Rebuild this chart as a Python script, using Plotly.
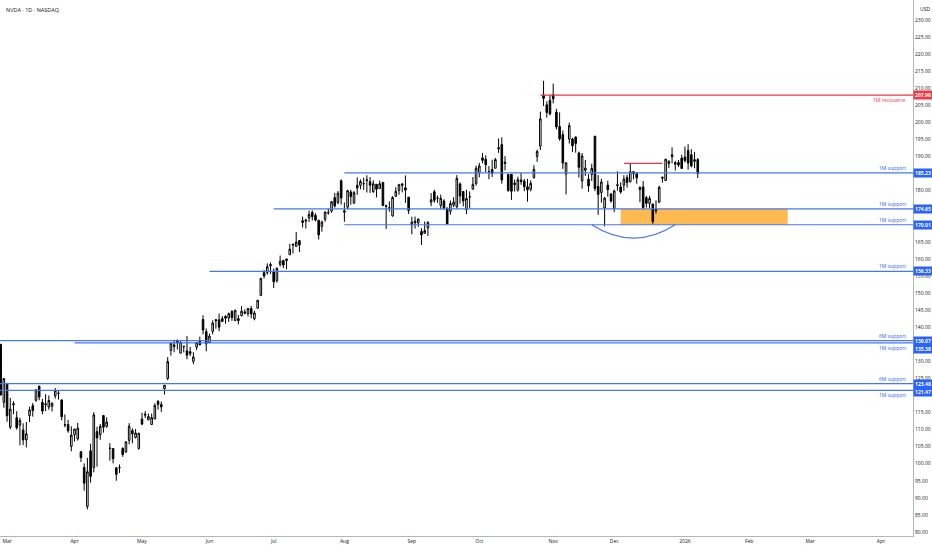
import pandas as pd
import plotly.graph_objects as go

# NVDA daily candles
dates = [
    '2025-02-27', '2025-02-28',
    '2025-03-03', '2025-03-04', '2025-03-05', '2025-03-06', '2025-03-07', '2025-03-10', '2025-03-11',
    '2025-03-12', '2025-03-13', '2025-03-14', '2025-03-17', '2025-03-18', '2025-03-19', '2025-03-20',
    '2025-03-21', '2025-03-24', '2025-03-25', '2025-03-26', '2025-03-27', '2025-03-28', '2025-03-31',
    '2025-04-01', '2025-04-02', '2025-04-03', '2025-04-04', '2025-04-07', '2025-04-08', '2025-04-09',
    '2025-04-10', '2025-04-11', '2025-04-14', '2025-04-15', '2025-04-16', '2025-04-17', '2025-04-21',
    '2025-04-22', '2025-04-23', '2025-04-24', '2025-04-25', '2025-04-28', '2025-04-29', '2025-04-30',
    '2025-05-01', '2025-05-02', '2025-05-05', '2025-05-06', '2025-05-07', '2025-05-08', '2025-05-09',
    '2025-05-12', '2025-05-13', '2025-05-14', '2025-05-15', '2025-05-16', '2025-05-19', '2025-05-20',
    '2025-05-21', '2025-05-22', '2025-05-23', '2025-05-27', '2025-05-28', '2025-05-29', '2025-05-30',
    '2025-06-02', '2025-06-03', '2025-06-04', '2025-06-05', '2025-06-06', '2025-06-09', '2025-06-10',
    '2025-06-11', '2025-06-12', '2025-06-13', '2025-06-16', '2025-06-17', '2025-06-18', '2025-06-20',
    '2025-06-23', '2025-06-24', '2025-06-25', '2025-06-26', '2025-06-27', '2025-06-30',
    '2025-07-01', '2025-07-02', '2025-07-03', '2025-07-07', '2025-07-08', '2025-07-09', '2025-07-10',
    '2025-07-11', '2025-07-14', '2025-07-15', '2025-07-16', '2025-07-17', '2025-07-18', '2025-07-21',
    '2025-07-22', '2025-07-23', '2025-07-24', '2025-07-25', '2025-07-28', '2025-07-29', '2025-07-30',
    '2025-07-31',
    '2025-08-01', '2025-08-04', '2025-08-05', '2025-08-06', '2025-08-07', '2025-08-08', '2025-08-11',
    '2025-08-12', '2025-08-13', '2025-08-14', '2025-08-15', '2025-08-18', '2025-08-19', '2025-08-20',
    '2025-08-21', '2025-08-22', '2025-08-25', '2025-08-26', '2025-08-27', '2025-08-28', '2025-08-29',
    '2025-09-02', '2025-09-03', '2025-09-04', '2025-09-05', '2025-09-08', '2025-09-09', '2025-09-10',
    '2025-09-11', '2025-09-12', '2025-09-15', '2025-09-16', '2025-09-17', '2025-09-18', '2025-09-19',
    '2025-09-22', '2025-09-23', '2025-09-24', '2025-09-25', '2025-09-26', '2025-09-29', '2025-09-30',
    '2025-10-01', '2025-10-02', '2025-10-03', '2025-10-06', '2025-10-07', '2025-10-08', '2025-10-09',
    '2025-10-10', '2025-10-13', '2025-10-14', '2025-10-15', '2025-10-16', '2025-10-17', '2025-10-20',
    '2025-10-21', '2025-10-22', '2025-10-23', '2025-10-24', '2025-10-27', '2025-10-28', '2025-10-29',
    '2025-10-30', '2025-10-31',
    '2025-11-03', '2025-11-04', '2025-11-05', '2025-11-06', '2025-11-07', '2025-11-10', '2025-11-11',
    '2025-11-12', '2025-11-13', '2025-11-14', '2025-11-17', '2025-11-18', '2025-11-19', '2025-11-20',
    '2025-11-21', '2025-11-24', '2025-11-25', '2025-11-26', '2025-11-28',
    '2025-12-01', '2025-12-02', '2025-12-03', '2025-12-04', '2025-12-05', '2025-12-08', '2025-12-09',
    '2025-12-10', '2025-12-11', '2025-12-12', '2025-12-15', '2025-12-16', '2025-12-17', '2025-12-18',
    '2025-12-19', '2025-12-22', '2025-12-23', '2025-12-24', '2025-12-26', '2025-12-29', '2025-12-30',
    '2025-12-31',
    '2026-01-02', '2026-01-05', '2026-01-06', '2026-01-07', '2026-01-08',
]

opens = [
    135.0, 118.0,
    123.5, 110.7, 117.6, 113.5, 111.3, 109.9, 107.0, 114.1, 117.0, 118.6, 122.7, 118.0, 117.3, 116.6,
    116.8, 119.9, 120.55, 118.7, 111.35, 111.5, 105.1,
    108.5, 107.3, 103.5, 98.9, 87.5, 103.8, 98.9, 109.4, 108.5, 114.1, 110.97, 104.55, 104.45, 98.8,
    98.8, 104.5, 103.5, 106.85, 109.7, 107.7, 104.5,
    113.1, 114.2, 112.9, 111.5, 113.1, 118.25, 117.35, 121.97, 124.98, 133.2, 134.3, 136.2, 132.39,
    134.29, 133.06, 132.23, 130.0, 134.15, 136.03, 142.25, 138.72,
    135.49, 138.78, 142.19, 142.17, 142.51, 143.19, 142.69, 144.61, 141.97, 142.48, 143.35, 144.49,
    144.01, 145.45, 142.5, 145.56, 149.27, 155.98, 156.04, 158.37,
    156.29, 153.66, 158.39, 159.57, 159.52, 161.22, 164.32, 163.72, 165.37, 171.19, 171.06, 172.02,
    173.64, 172.75, 171.34, 169.53, 171.6, 173.61, 174.02, 177.96, 176.51, 182.9,
    174.09, 175.16, 179.62, 176.33, 181.57, 181.56, 182.06, 182.96, 182.62, 179.75, 181.88, 180.6,
    182.43, 175.6, 174.84, 172.61, 178.35, 180.06, 181.98, 180.82, 178.11,
    170.0, 171.06, 170.57, 168.03, 167.55, 169.08, 176.64, 179.68, 177.77, 175.67, 177.0, 174.86,
    173.98, 175.77, 175.3, 181.97, 179.77, 174.48, 178.17, 180.43, 182.08,
    185.24, 189.6, 189.19, 185.5, 186.23, 186.57, 192.23, 193.51, 187.97, 184.77, 184.8, 182.23,
    180.18, 183.13, 182.79, 181.14, 180.42, 183.84, 189.99, 193.05, 207.98, 205.15, 206.45,
    208.08, 203.0, 198.77, 196.42, 184.9, 195.11, 195.16, 195.72, 191.05, 182.86, 185.97, 183.38,
    184.79, 195.95, 181.24, 179.49, 174.91, 181.63, 179.01,
    174.76, 181.76, 181.08, 181.62, 183.89, 182.64, 185.56, 184.97, 180.28, 181.11, 177.94, 176.26,
    176.1, 174.53, 176.67, 183.92, 182.97, 187.94, 189.92, 187.71, 188.24, 189.57,
    189.84, 191.76, 190.52, 188.57, 189.11,
]

highs = [
    135.0, 125.1,
    123.7, 119.3, 118.3, 115.4, 113.5, 111.85, 112.23, 116.7, 117.8, 121.9, 122.9, 119.0, 120.4, 120.0,
    117.99, 122.2, 121.3, 118.8, 114.45, 112.87, 110.96,
    110.2, 111.98, 103.7, 100.1, 101.75, 105.85, 115.1, 110.86, 111.65, 114.3, 113.6, 106.0, 104.47,
    99.0, 99.8, 104.8, 106.5, 111.9, 110.37, 110.2, 109.1,
    114.9, 115.4, 114.7, 114.7, 117.7, 118.68, 118.23, 123.0, 131.22, 135.44, 136.3, 136.35, 135.87,
    134.58, 137.4, 134.25, 132.68, 135.66, 137.25, 143.49, 139.62,
    138.12, 142.0, 142.39, 144.0, 143.27, 143.49, 144.29, 144.99, 145.0, 143.58, 146.18, 145.22,
    145.65, 146.2, 144.78, 147.96, 154.45, 156.72, 158.71, 158.99,
    157.2, 157.53, 160.98, 159.6, 160.0, 164.42, 164.5, 167.89, 165.49, 172.4, 171.75, 174.16,
    174.25, 173.38, 171.39, 171.26, 173.9, 174.72, 177.0, 179.38, 179.89, 183.3,
    176.54, 180.26, 180.26, 179.88, 183.88, 183.3, 183.83, 184.5, 183.97, 183.03, 181.9, 182.94,
    182.5, 175.92, 176.9, 178.39, 181.0, 182.0, 182.26, 184.47, 178.15,
    172.38, 172.41, 171.86, 169.03, 170.96, 170.98, 179.29, 180.28, 178.6, 178.85, 177.5, 175.05,
    177.1, 178.08, 184.55, 182.42, 179.78, 180.26, 179.77, 184.0, 187.35,
    188.14, 191.05, 190.36, 187.23, 189.06, 189.6, 195.3, 195.62, 190.11, 184.8, 184.87, 183.28,
    184.1, 185.2, 183.44, 183.44, 183.03, 187.47, 192.0, 203.15, 212.19, 206.16, 207.97,
    211.34, 203.97, 202.92, 197.62, 188.32, 199.94, 195.42, 195.89, 191.44, 191.01, 189.0, 184.8,
    187.86, 196.0, 184.56, 183.5, 178.16, 182.91, 179.29,
    180.3, 185.66, 182.45, 184.52, 184.66, 188.0, 185.72, 185.48, 181.32, 182.82, 178.42, 178.49,
    176.13, 177.15, 181.45, 184.16, 189.33, 188.91, 192.69, 188.76, 188.99, 190.56,
    192.93, 193.63, 192.17, 191.37, 189.55,
]

lows = [
    120.0, 116.4,
    112.3, 110.1, 114.5, 110.0, 105.4, 105.46, 104.77, 112.2, 113.8, 118.1, 118.6, 114.5, 115.4, 115.8,
    115.3, 119.1, 118.8, 112.7, 110.66, 109.07, 103.65,
    106.5, 106.79, 100.5, 92.1, 86.62, 94.46, 97.5, 99.15, 107.0, 109.1, 110.5, 100.9, 100.1, 95.0,
    97.3, 102.0, 103.1, 105.7, 106.0, 107.4, 104.1,
    111.3, 113.4, 112.7, 111.4, 113.1, 115.85, 115.2, 120.28, 124.47, 131.68, 132.66, 133.46, 132.39,
    132.62, 130.59, 131.55, 129.16, 133.31, 134.79, 137.91, 132.92,
    135.4, 137.95, 139.55, 138.83, 141.51, 141.0, 141.53, 141.87, 141.85, 140.85, 143.2, 143.78,
    143.12, 142.65, 142.03, 145.5, 149.26, 154.29, 155.38, 155.6,
    151.49, 153.05, 157.76, 157.3, 157.0, 161.16, 161.61, 163.47, 162.02, 169.2, 168.9, 170.83,
    171.26, 171.0, 165.67, 167.97, 170.89, 172.96, 173.52, 175.02, 176.04, 175.93,
    170.89, 174.52, 175.9, 176.24, 178.8, 180.4, 180.25, 179.46, 179.35, 179.35, 178.04, 180.59,
    175.49, 168.8, 173.81, 172.38, 178.2, 178.8, 179.53, 176.41, 173.15,
    167.22, 168.89, 169.41, 164.07, 167.35, 166.73, 175.47, 176.48, 176.45, 174.51, 174.38, 170.2,
    172.96, 175.18, 174.71, 176.21, 175.4, 173.13, 174.93, 180.32, 181.48,
    183.9, 188.06, 185.38, 183.33, 184.0, 186.54, 191.06, 182.05, 185.96, 179.7, 177.29, 179.77,
    179.75, 181.73, 179.85, 176.76, 179.79, 183.5, 188.43, 191.91, 204.78, 201.41, 202.07,
    205.56, 197.93, 194.65, 186.38, 178.91, 193.79, 191.3, 191.13, 183.85, 180.58, 184.32, 179.65,
    182.83, 179.85, 172.93, 176.48, 169.55, 178.24, 176.5,
    173.68, 180.0, 179.11, 179.96, 180.91, 182.4, 183.32, 182.04, 176.62, 174.62, 175.03, 174.9,
    170.31, 173.24, 176.34, 182.35, 182.9, 186.59, 188.0, 185.91, 186.93, 186.49,
    188.26, 186.15, 186.82, 186.56, 183.71,
]

closes = [
    120.15, 124.92,
    114.06, 115.99, 117.3, 110.57, 112.69, 106.98, 108.76, 115.74, 115.58, 121.67, 119.53, 115.43,
    117.52, 118.53, 117.7, 121.41, 120.69, 113.76, 111.43, 109.67, 108.38,
    110.15, 110.42, 101.8, 94.31, 97.64, 96.3, 114.33, 107.57, 110.93, 110.71, 112.2, 104.49, 101.49,
    96.91, 98.89, 102.71, 106.43, 111.01, 108.73, 109.02, 108.92,
    111.61, 114.5, 113.82, 113.54, 117.06, 117.37, 116.65, 123.0, 129.93, 135.34, 134.83, 135.4,
    135.57, 134.38, 131.8, 132.83, 131.29, 135.5, 134.81, 139.19, 135.13,
    137.38, 141.22, 141.92, 139.99, 141.72, 142.63, 143.96, 142.83, 145.0, 141.97, 144.69, 144.12,
    145.48, 143.85, 144.17, 147.9, 154.31, 155.02, 157.75, 157.99,
    153.3, 157.25, 159.34, 158.24, 160.0, 162.88, 164.1, 164.92, 164.07, 170.7, 171.37, 173.0,
    172.41, 171.38, 167.03, 170.78, 173.74, 173.5, 176.75, 175.51, 179.27, 177.87,
    173.72, 180.0, 178.26, 179.42, 180.77, 182.7, 182.06, 183.16, 181.59, 182.02, 180.45, 182.01,
    175.64, 175.4, 174.98, 177.99, 179.81, 181.77, 181.6, 180.17, 174.18,
    170.78, 170.62, 171.66, 167.02, 168.31, 170.76, 177.33, 177.17, 177.82, 177.75, 174.88, 170.29,
    176.24, 176.67, 183.61, 178.43, 176.97, 177.69, 178.19, 181.85, 186.58,
    187.24, 188.89, 187.62, 185.54, 185.04, 189.11, 192.57, 183.16, 188.32, 180.03, 179.83, 181.81,
    183.22, 182.64, 181.16, 180.28, 182.16, 186.26, 191.49, 201.03, 207.04, 202.89, 202.49,
    206.88, 198.69, 195.21, 188.08, 188.15, 199.05, 193.16, 193.8, 186.86, 190.17, 186.6, 181.36,
    186.52, 180.64, 178.88, 182.55, 177.82, 180.26, 177.0,
    179.92, 181.46, 179.59, 183.38, 182.41, 185.55, 184.97, 183.78, 180.93, 175.02, 176.29, 177.72,
    170.94, 174.14, 180.99, 183.69, 189.21, 188.61, 190.53, 188.22, 187.54, 186.5,
    188.85, 188.12, 187.24, 189.11, 185.04,
]

# horizontal levels drawn on the chart
levels = [207.98, 185.23, 174.65, 170.01, 156.33, 136.07, 135.38, 123.48, 121.47]
level_names = ['1M resistance', '1M support', '1M support', '1M support', '1M support',
               '6M support', '1M support', '6M support', '1M support']
level_from = ['2025-10-28', '2025-08-01', '2025-07-01', '2025-08-01', '2025-06-02',
              None, '2025-04-01', None, None]

# other drawings
prior_high = 188.0
prior_high_span = ['2025-12-04', '2025-12-22']
zone_low, zone_high = 170.01, 174.65
zone_span = ['2025-12-03', '2026-02-19']
arc_span = ['2025-11-19', '2025-12-29']
arc_bottom = 166.1

# trading calendar (TradingView spaces bars by session, not by calendar day)
holidays = ['2025-04-18', '2025-05-26', '2025-06-19', '2025-07-04', '2025-09-01', '2025-11-27',
            '2025-12-25', '2026-01-01', '2026-01-19', '2026-02-16', '2026-04-03']
cal = pd.bdate_range('2025-02-27', '2026-04-30', freq='C', holidays=holidays)
pos = {d.strftime('%Y-%m-%d'): i for i, d in enumerate(cal)}
x = [pos[d] for d in dates]

# month ticks on first session of each month
tickvals, ticktext = [], []
seen = set()
for i, d in enumerate(cal):
    key = (d.year, d.month)
    if key in seen or d < pd.Timestamp('2025-03-01'):
        continue
    seen.add(key)
    tickvals.append(i)
    ticktext.append(str(d.year) if d.month == 1 else d.strftime('%b'))

BLUE = '#2962FF'
LINE_BLUE = '#4477F2'
RED = '#F23645'
FONT = 'Open Sans'

YMIN, YMAX = 78.83, 235.86
PLOT_H = 536  # px
units_per_px = (YMAX - YMIN) / PLOT_H

fig = go.Figure(go.Candlestick(
    x=x, open=opens, high=highs, low=lows, close=closes,
    increasing=dict(line=dict(color='#000000', width=1), fillcolor='#FFFFFF'),
    decreasing=dict(line=dict(color='#000000', width=1), fillcolor='#000000'),
    whiskerwidth=0, hoverinfo='skip', showlegend=False,
))

XMAX = 284
shapes = []
annotations = []

# demand zone + arc under it
shapes.append(dict(type='rect', xref='x', yref='y', layer='below',
                   x0=pos[zone_span[0]], x1=pos[zone_span[1]], y0=zone_low, y1=zone_high,
                   fillcolor='rgba(255,167,38,0.8)', line=dict(width=0)))
a0, a1 = pos[arc_span[0]], pos[arc_span[1]]
ctrl = 2 * arc_bottom - zone_low
shapes.append(dict(type='path', xref='x', yref='y',
                   path=f'M {a0},{zone_low} Q {(a0 + a1) / 2},{ctrl} {a1},{zone_low}',
                   line=dict(color=LINE_BLUE, width=1.2)))

# short red line over december high
shapes.append(dict(type='line', xref='x', yref='y',
                   x0=pos[prior_high_span[0]], x1=pos[prior_high_span[1]],
                   y0=prior_high, y1=prior_high, line=dict(color=RED, width=1.2)))

# tags that would collide on the price scale get nudged down, like TradingView does
tag_nudge = {135.38: -6, 121.47: -2}
tag_centres = []

for lvl, name, start in zip(levels, level_names, level_from):
    red = 'resistance' in name
    x0 = -1 if start is None else pos[start]
    shapes.append(dict(type='line', xref='x', yref='y', x0=x0, x1=XMAX, y0=lvl, y1=lvl,
                       line=dict(color=RED if red else LINE_BLUE, width=1.2)))
    below = red or lvl in (135.38, 121.47)
    annotations.append(dict(xref='paper', yref='y', x=0.9945, y=lvl, xanchor='right',
                            yanchor='middle', yshift=-5 if below else 5, showarrow=False,
                            text=name, font=dict(size=5, color=RED if red else BLUE, family=FONT)))
    # price tag on the axis
    nudge = tag_nudge.get(lvl, 0)
    tag_centres.append(lvl + nudge * units_per_px)
    annotations.append(dict(xref='paper', yref='y', x=1, y=lvl, xanchor='left', yanchor='middle',
                            yshift=nudge, showarrow=False, text=f'<b>{lvl:.2f}</b>',
                            bgcolor=RED if red else BLUE, width=18, height=8, borderpad=0,
                            font=dict(size=5, color='#FFFFFF', family=FONT)))

annotations.append(dict(xref='paper', yref='paper', x=0.004, y=1, xanchor='left', yanchor='top',
                        yshift=-4, showarrow=False, text='NVDA · 1D · NASDAQ',
                        font=dict(size=5.5, color='#131722', family=FONT)))
annotations.append(dict(xref='paper', yref='paper', x=1, y=1, xanchor='left', yanchor='top',
                        xshift=5, yshift=-4, showarrow=False, text='USD',
                        font=dict(size=5, color='#131722', family=FONT)))

# price scale labels; the ones sitting under a tag are hidden, as on the price scale
yticks = list(range(80, 235, 5))
ylabels = []
for v in yticks:
    covered = any(abs(v - c) < 1.2 for c in tag_centres)
    ylabels.append('' if covered else f'{v:.2f}')

fig.update_layout(
    width=932, height=550, autosize=False,
    margin=dict(l=0, r=19, t=0, b=14),
    paper_bgcolor='#FFFFFF', plot_bgcolor='#FFFFFF',
    shapes=shapes, annotations=annotations,
    font=dict(family=FONT, size=5, color='#131722'),
    xaxis=dict(range=[-0.2, XMAX], tickvals=tickvals, ticktext=ticktext, showgrid=False,
               zeroline=False, showline=True, linecolor='#B2B5BE', linewidth=1, ticks='',
               rangeslider=dict(visible=False), tickfont=dict(size=5, color='#131722'),
               fixedrange=True),
    yaxis=dict(side='right', range=[YMIN, YMAX], tickvals=yticks, ticktext=ylabels,
               showgrid=False, zeroline=False, showline=True, linecolor='#B2B5BE', linewidth=1,
               ticks='', tickfont=dict(size=5, color='#131722'), fixedrange=True),
)

# drop the page's default body margin so the chart fills the window
fig.write_html('out.html', config={'displayModeBar': False},
               post_script="document.body.style.margin='0';")
